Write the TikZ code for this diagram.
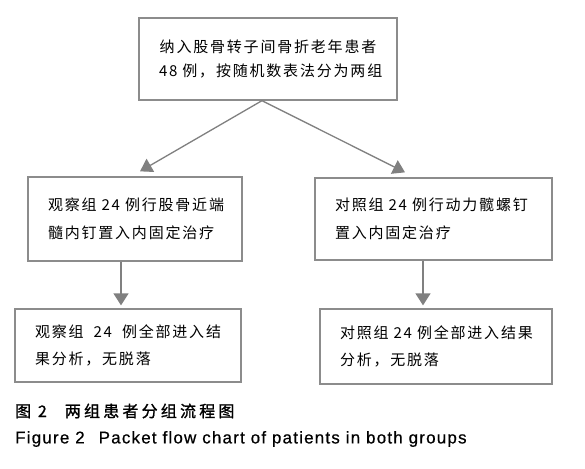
\documentclass[tikz,border=0pt]{standalone}
\usepackage{fontspec}
\setmainfont{Liberation Sans}
\newfontfamily\cjk{Noto Sans CJK SC}[LetterSpace=12]
\newfontfamily\cjkcap{Noto Sans CJK SC}[LetterSpace=20,FakeBold=1.2]
\newfontfamily\latcap{Liberation Sans}[LetterSpace=7,FakeBold=0.6]
\usetikzlibrary{arrows.meta}

\begin{document}
\begin{tikzpicture}[x=1pt,y=-1pt,>={Triangle[length=12pt,width=15pt]},
  box/.style={draw=black!45,line width=1.3pt,inner xsep=20pt,inner ysep=0pt,align=left,font=\cjk\fontsize{15}{28}\selectfont},
  flow/.style={->,draw=black!50,line width=1.3pt}]
  \path[use as bounding box,fill=white] (0,0) rectangle (585,468);
  \node[box,align=center,text width=218pt,minimum height=82pt,font=\cjk\fontsize{15}{24}\selectfont] (enrol) at (268,59) {纳入股骨转子间骨折老年患者\\48~例，按随机数表法分为两组};
  \node[box,text width=174pt,minimum height=84pt] (grpA) at (135,219) {观察组~24~例行股骨近端\\髓内钉置入内固定治疗};
  \node[box,text width=197pt,minimum height=82pt] (grpB) at (433.5,219) {对照组~24~例行动力髋螺钉\\置入内固定治疗};
  \node[box,text width=186pt,minimum height=73pt,font=\cjk\fontsize{15}{27}\selectfont] (outA) at (128,345.5) {观察组~~24~~例全部进入结\\果分析，无脱落};
  \node[box,text width=192pt,minimum height=75pt,font=\cjk\fontsize{15}{27}\selectfont] (outB) at (436,346.5) {对照组~24~例全部进入结果\\分析，无脱落};
  \draw[flow] ([xshift=-6pt]enrol.south) -- ([xshift=5pt,yshift=5pt]grpA.north);
  \draw[flow] ([xshift=-6pt]enrol.south) -- ([xshift=-28.5pt,yshift=5pt]grpB.north);
  \draw[flow] ([xshift=-14pt]grpA.south) -- ([xshift=-7pt,yshift=3pt]outA.north);
  \draw[flow] ([xshift=-10.5pt]grpB.south) -- ([xshift=-13pt,yshift=3pt]outB.north);
  \node[anchor=west,inner sep=0pt,font=\cjkcap\fontsize{16}{18}\selectfont] (capzh) at (15,411) {图~2\hspace{18pt}两组患者分组流程图};
  \node[anchor=west,inner sep=0pt,font=\latcap\fontsize{17}{20}\selectfont] (capen) at (15,439) {Figure 2\hspace{14pt}Packet flow chart of patients in both groups};
\end{tikzpicture}
\end{document}
